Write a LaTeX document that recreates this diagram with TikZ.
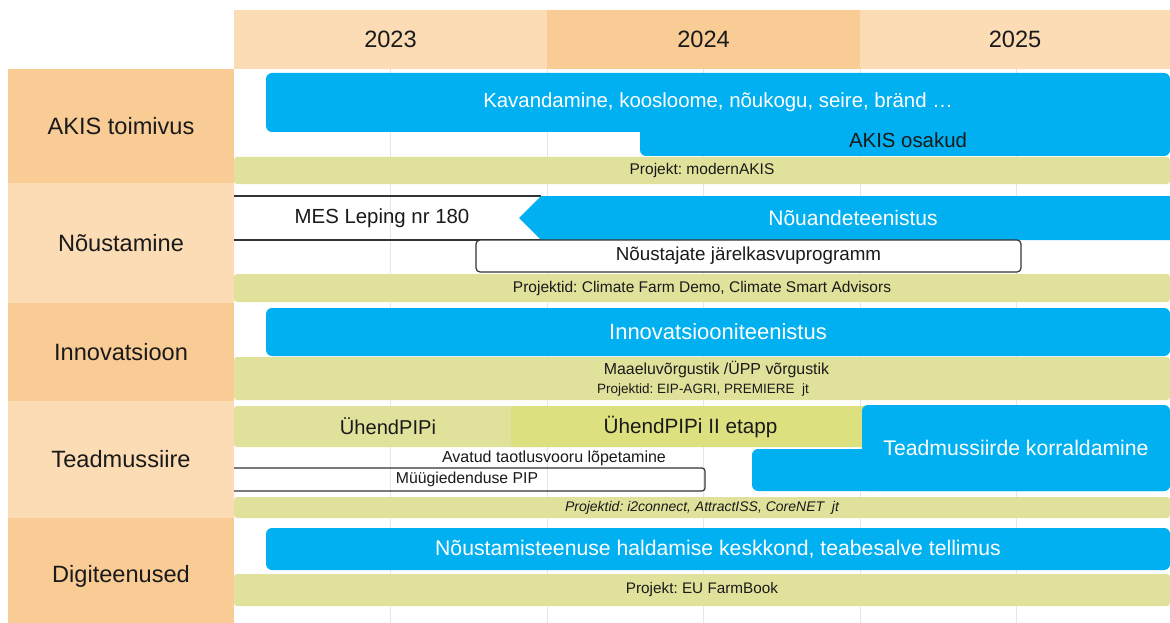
\documentclass[tikz,border=0pt]{standalone}
\usepackage{fontspec}
\setmainfont{Liberation Sans}
\frenchspacing
\definecolor{peachD}{HTML}{F9CB95}
\definecolor{peachL}{HTML}{FCDCB5}
\definecolor{barblue}{HTML}{00B0F0}
\definecolor{bargreen}{HTML}{E0E29B}
\definecolor{bargreenB}{HTML}{DDE07E}
\definecolor{gridgray}{HTML}{E6E6E6}
\definecolor{ink}{HTML}{1A1A1A}
\definecolor{boxline}{HTML}{333333}
\newcommand\fz[1]{\fontsize{#1}{#1}\selectfont}
\begin{document}
\begin{tikzpicture}[x=1pt,y=-1pt,
  cell/.style={inner sep=0pt, text=ink, font=\fz{23.6}},
  bluebar/.style={fill=barblue, rounded corners=6pt, inner sep=0pt, text=white, font=\fz{20.8}},
  greenbar/.style={fill=bargreen, rounded corners=3pt, inner sep=0pt, text=ink, font=\fz{15.5}},
  lbl/.style={inner sep=0pt, text=ink},
  gline/.style={draw=gridgray, line width=1pt},
  bline/.style={draw=boxline, line width=1.2pt},
]
\useasboundingbox (0,0) rectangle (1170,623);
\fill[white] (0,0) rectangle (1170,623);

% header
\node[cell, fill=peachL, minimum width=313pt, minimum height=59pt] (y2023) at (390.5,39.5) {2023};
\node[cell, fill=peachD, minimum width=313pt, minimum height=59pt] (y2024) at (703.5,39.5) {2024};
\node[cell, fill=peachL, minimum width=310pt, minimum height=59pt] (y2025) at (1015,39.5) {2025};

% row labels
\node[cell, fill=peachD, minimum width=226pt, minimum height=114pt] (rAKIS) at (121,126) {AKIS toimivus};
\node[cell, fill=peachL, minimum width=226pt, minimum height=120pt] (rNou) at (121,243) {Nõustamine};
\node[cell, fill=peachD, minimum width=226pt, minimum height=98pt] (rInn) at (121,352) {Innovatsioon};
\node[cell, fill=peachL, minimum width=226pt, minimum height=117pt] (rTea) at (121,459.5) {Teadmussiire};
\node[cell, fill=peachD, minimum width=226pt, minimum height=116pt] (rDig) at (121,576) {Digiteenused};

% grid
\foreach \gx in {390.5,547,703.5,860,1016.5} \draw[gline] (\gx,69) -- (\gx,623);

% AKIS toimivus
\node[bluebar, minimum width=530pt, minimum height=36pt] (osakBar) at (905,138) {};
\node[bluebar, minimum width=904pt, minimum height=59pt, font=\fz{20.4}] (kav) at (718,102.5) {Kavandamine, koosloome, nõukogu, seire, bränd …};
\node[lbl, font=\fz{20.4}] (osak) at (908,140) {AKIS osakud};
\node[greenbar, minimum width=936pt, minimum height=27pt] (modern) at (702,170.5) {Projekt: modernAKIS};

% Nõustamine
\coordinate (mesTL) at (234,196);
\coordinate (mesTR) at (541,196);
\coordinate (mesBL) at (234,240);
\coordinate (mesBR) at (541,240);
\draw[bline] (mesTL) -- (mesTR);
\draw[bline] (mesBL) -- (mesBR);
\node[lbl, font=\fz{20.4}] (mes) at (382,218) {MES Leping nr 180};
\fill[barblue] (541,196) -- (1170,196) -- (1170,240) -- (541,240) -- (519,218) -- cycle;
\node[lbl, text=white, font=\fz{21}] (nou) at (853,218) {Nõuandeteenistus};
\node[draw=boxline, line width=1.2pt, fill=white, rounded corners=4pt, minimum width=545pt, minimum height=32pt, inner sep=0pt, text=ink, font=\fz{18.8}] (jk) at (748.5,256) {Nõustajate järelkasvuprogramm};
\node[greenbar, minimum width=936pt, minimum height=28pt] (climate) at (702,288) {Projektid: Climate Farm Demo, Climate Smart Advisors};

% Innovatsioon
\node[bluebar, minimum width=904pt, minimum height=48pt, font=\fz{22}] (inn) at (718,332) {Innovatsiooniteenistus};
\node[greenbar, minimum width=936pt, minimum height=43pt] (maaBar) at (702,378.5) {};
\node[lbl, font=\fz{15.9}] (maa) at (716.5,369) {Maaeluvõrgustik /ÜPP võrgustik};
\node[lbl, font=\fz{13.5}] (eip) at (703,390) {Projektid: EIP-AGRI, PREMIERE~ jt};

% Teadmussiire
\node[greenbar, minimum width=306pt, minimum height=41pt] (pip1Bar) at (387,426.5) {};
\node[lbl, font=\fz{20.1}] (pip1) at (388,426.5) {ÜhendPIPi};
\node[greenbar, fill=bargreenB, minimum width=359pt, minimum height=41pt, font=\fz{20.7}] (pip2) at (690.5,426.5) {ÜhendPIPi II etapp};
\node[bluebar, minimum width=418pt, minimum height=42pt] (teaLow) at (961,470) {};
\node[bluebar, minimum width=308pt, minimum height=86pt, font=\fz{21.2}] (tea) at (1016,448) {Teadmussiirde korraldamine};
\node[lbl, font=\fz{16}] (avt) at (554,458) {Avatud taotlusvooru lõpetamine};
\coordinate (mTL) at (234,468);
\coordinate (mTR) at (705,468);
\coordinate (mBR) at (705,491);
\coordinate (mBL) at (234,491);
\draw[bline, rounded corners=3pt] (mTL) -- (mTR) -- (mBR) -- (mBL);
\node[lbl, font=\fz{15.8}] (mpip) at (467,479.5) {Müügiedenduse PIP};
\node[greenbar, minimum width=936pt, minimum height=21pt, font=\fz{14}\itshape] (i2c) at (702,507.5) {Projektid: i2connect, AttractISS, CoreNET~ jt};

% Digiteenused
\node[bluebar, minimum width=904pt, minimum height=42pt, font=\fz{21.2}] (dig) at (718,549) {Nõustamisteenuse haldamise keskkond, teabesalve tellimus};
\node[greenbar, minimum width=936pt, minimum height=32pt, font=\fz{15.3}] (farm) at (702,590) {Projekt: EU FarmBook};
\end{tikzpicture}
\end{document}
